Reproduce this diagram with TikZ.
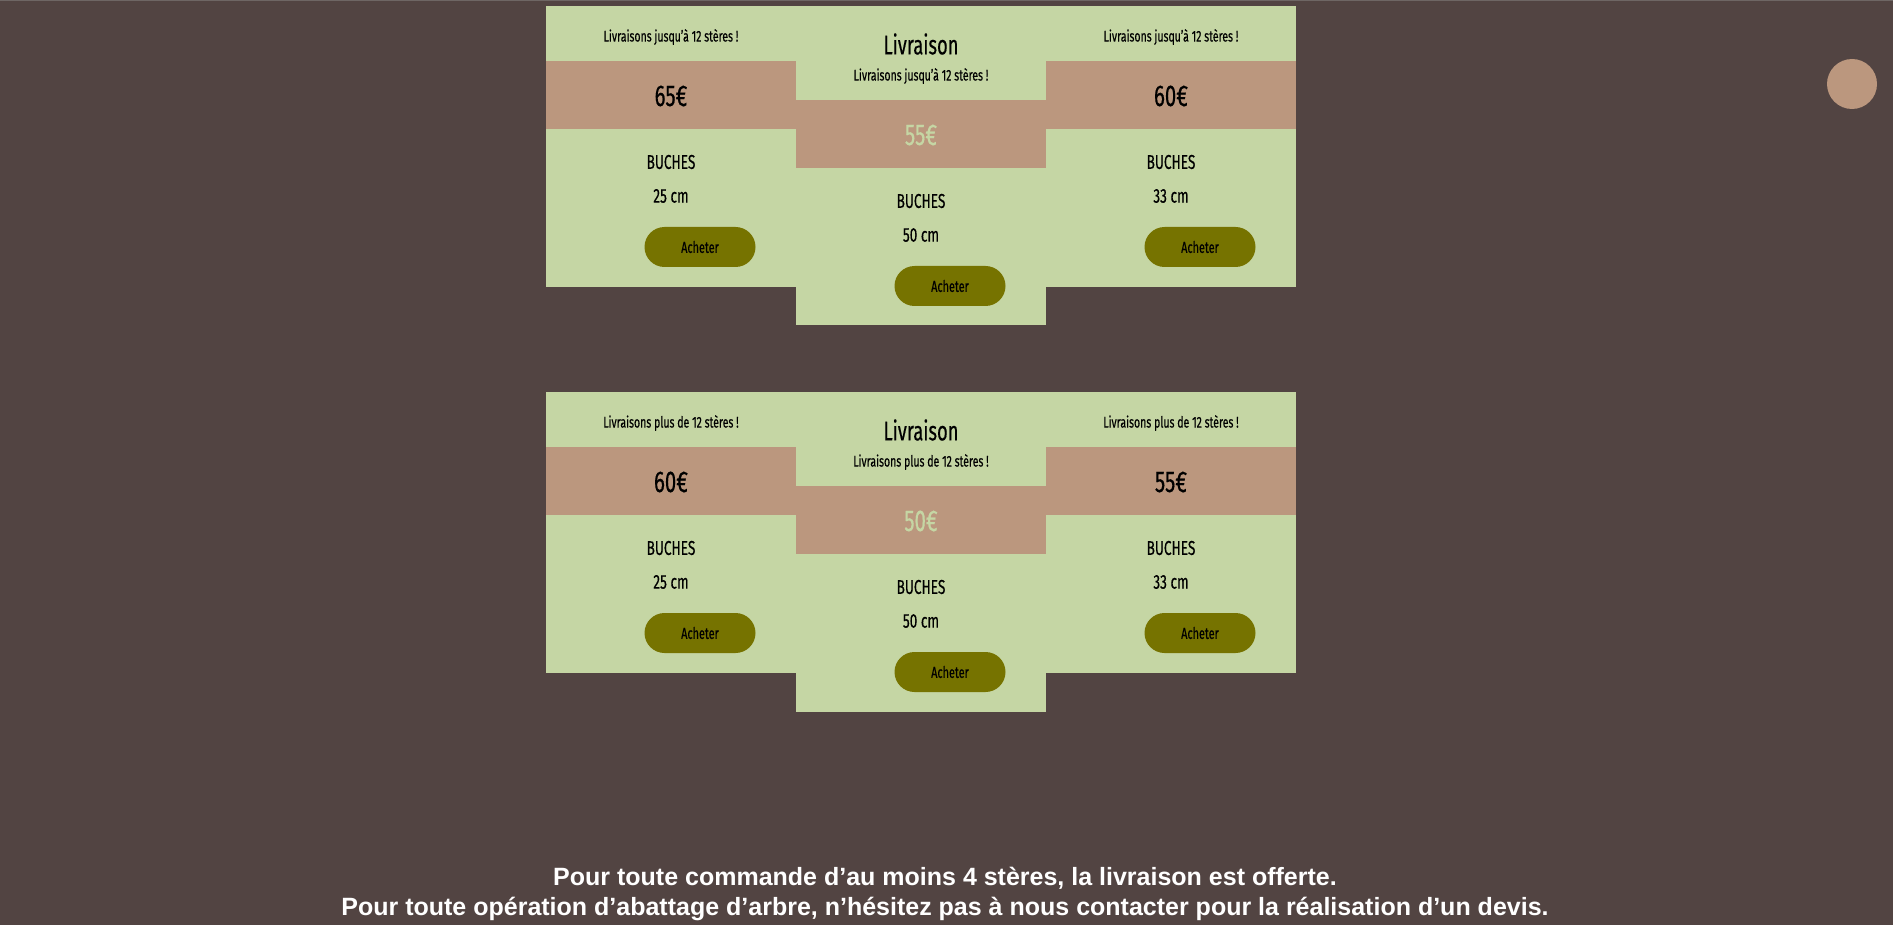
\documentclass[tikz,border=0pt]{standalone}
\usepackage{fontspec}
\setmainfont{Fira Sans}[FakeStretch=0.68, FakeBold=0.4]
\newfontfamily\notefont{Liberation Sans}
\definecolor{pagebg}{HTML}{524442}
\definecolor{topedge}{HTML}{6E6664}
\definecolor{cardgreen}{HTML}{C5D6A4}
\definecolor{bandbrown}{HTML}{BB977E}
\definecolor{buttonolive}{HTML}{767300}

\begin{document}
\begin{tikzpicture}[x=1pt, y=-1pt,
  card/.style = {fill=cardgreen, minimum width=250pt, inner sep=0pt},
  band/.style = {fill=bandbrown, minimum width=250pt, minimum height=68pt, inner sep=0pt},
  subtext/.style = {font=\fontsize{15.5}{18}\selectfont},
  title/.style = {font=\fontsize{27}{30}\selectfont},
  price/.style = {font=\fontsize{30}{33}\selectfont},
  info/.style = {font=\fontsize{20}{23}\selectfont},
  buybutton/.style = {fill=buttonolive, rounded corners=20pt, minimum width=111pt,
    minimum height=40pt, inner sep=0pt, font=\fontsize{16}{18}\selectfont}]
	\fill[pagebg] (0,0) rectangle (1893,925);
	\useasboundingbox (0,0) rectangle (1893,925);
	\fill[topedge] (0,0) rectangle (1893,1.5);
	\foreach \dy/\txt/\pa/\pb/\pc [count=\r] in {0/jusqu'à/65/55/60, 386/plus de/60/50/55} {
	  % cards and price bands
	  \node[card, minimum height=281pt] (cardL\r) at (671,146.5+\dy) {};
	  \node[card, minimum height=319.5pt] (cardC\r) at (921,165.75+\dy) {};
	  \node[card, minimum height=281pt] (cardR\r) at (1171,146.5+\dy) {};
	  \node[band] (bandL\r) at (671,95+\dy) {};
	  \node[band] (bandC\r) at (921,134+\dy) {};
	  \node[band] (bandR\r) at (1171,95+\dy) {};
	  % texts
	  \node[subtext] (subL\r) at (671,37+\dy) {Livraisons \txt{} 12 stères !};
	  \node[subtext] (subR\r) at (1171,37+\dy) {Livraisons \txt{} 12 stères !};
	  \node[title] (title\r) at (921,44+\dy) {Livraison};
	  \node[subtext] (subC\r) at (921,76+\dy) {Livraisons \txt{} 12 stères !};
	  \node[price] (priceL\r) at (671,96+\dy) {\pa€};
	  \node[price, text=cardgreen] (priceC\r) at (921,135+\dy) {\pb€};
	  \node[price] (priceR\r) at (1171,96+\dy) {\pc€};
	  \node[info] (woodL\r) at (671,162+\dy) {BUCHES};
	  \node[info] (woodC\r) at (921,201+\dy) {BUCHES};
	  \node[info] (woodR\r) at (1171,162+\dy) {BUCHES};
	  \node[info] (sizeL\r) at (671,196+\dy) {25 cm};
	  \node[info] (sizeC\r) at (921,235+\dy) {50 cm};
	  \node[info] (sizeR\r) at (1171,196+\dy) {33 cm};
	  \node[buybutton] (buyL\r) at (700,247+\dy) {Acheter};
	  \node[buybutton] (buyC\r) at (950,286+\dy) {Acheter};
	  \node[buybutton] (buyR\r) at (1200,247+\dy) {Acheter};
	}
	\node[circle, fill=bandbrown, minimum size=50pt, inner sep=0pt] (menu) at (1852,84) {};
	% delivery note
	\node[text=white, align=center, font=\notefont\bfseries\fontsize{25}{30}\selectfont] (note)
	  at (945,894) {Pour toute commande d’au moins 4 stères, la livraison est offerte.\\
	  Pour toute opération d’abattage d’arbre, n’hésitez pas à nous contacter pour la réalisation d’un devis.};
\end{tikzpicture}
\end{document}
